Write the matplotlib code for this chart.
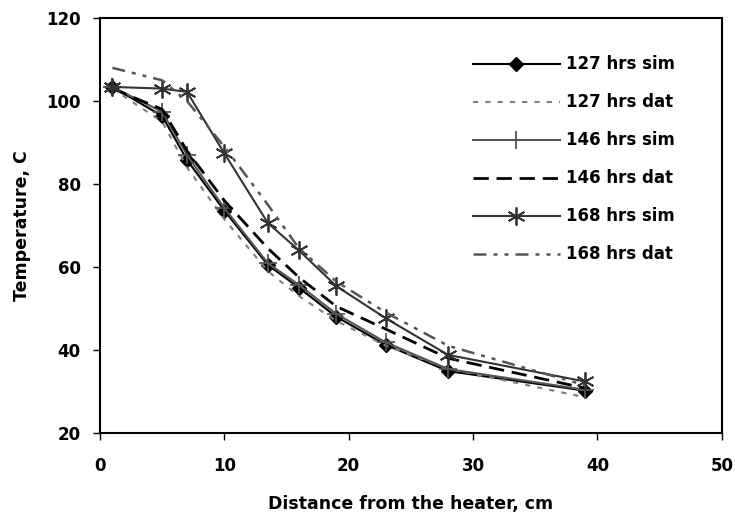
import matplotlib
matplotlib.use("Agg")
import matplotlib.pyplot as plt

plt.rcParams['font.family'] = ['DejaVu Sans']
plt.rcParams['font.weight'] = 'bold'

# distance from heater, cm
x_pts = [1, 5, 7, 10, 13.5, 16, 19, 23, 28, 39]

sim127 = [103.4, 96.4, 85.8, 73.6, 60.5, 55.0, 48.0, 41.2, 34.9, 30.2]
dat127 = [103.0, 95.0, 84.0, 71.5, 59.0, 53.0, 47.0, 41.0, 35.5, 28.6]
sim146 = [103.4, 97.4, 87.0, 74.2, 60.9, 55.7, 48.7, 41.8, 35.4, 30.4]
dat146 = [103.0, 98.0, 88.0, 76.0, 64.5, 57.5, 50.5, 45.0, 38.0, 30.8]
sim168 = [103.4, 103.0, 102.2, 87.4, 70.6, 64.0, 55.4, 47.6, 38.8, 32.4]
dat168 = [108.0, 105.0, 100.0, 89.0, 75.0, 64.5, 56.5, 49.0, 41.0, 31.5]

fig = plt.figure(figsize=(7.35, 5.16), dpi=100)
ax = fig.add_axes([0.136, 0.161, 0.846, 0.804])

ax.plot(x_pts, sim127, color='black', lw=1.5, marker='D', ms=7,
        label='127 hrs sim')
ax.plot(x_pts, dat127, color='#808080', lw=1.5, linestyle=(0, (2.5, 3.4)),
        label='127 hrs dat')
ax.plot(x_pts, sim146, color='#555555', lw=1.5, marker='+', ms=13, mew=1.3,
        label='146 hrs sim')
ax.plot(x_pts, dat146, color='black', lw=2, linestyle=(0, (5.5, 2.8)),
        label='146 hrs dat')
ax.plot(x_pts, sim168, color='#333333', lw=1.5, marker=(6, 2, 0), ms=13, mew=1.3,
        label='168 hrs sim')
ax.plot(x_pts, dat168, color='#555555', lw=1.8,
        linestyle=(0, (5.2, 2.8, 1.6, 2.8, 1.6, 2.8)),
        label='168 hrs dat')

ax.set_xlim(0, 50)
ax.set_ylim(20, 120)
ax.set_xticks([0, 10, 20, 30, 40, 50])
ax.set_yticks([20, 40, 60, 80, 100, 120])
ax.tick_params(direction='out', length=5, width=1, labelsize=12)
ax.tick_params(axis='x', pad=12)
ax.tick_params(axis='y', pad=9)
for s in ax.spines.values():
    s.set_linewidth(1.5)

ax.set_xlabel('Distance from the heater, cm', fontsize=12.5, fontweight='bold',
              labelpad=15)
ax.set_ylabel('Temperature, C', fontsize=12.5, fontweight='bold', labelpad=11)

leg = ax.legend(loc='upper left', frameon=False, fontsize=12, handlelength=5.2,
                labelspacing=1.2, bbox_to_anchor=(0.6, 0.91),
                borderaxespad=0, borderpad=0, handletextpad=0.35)
for t in leg.get_texts():
    t.set_fontweight('bold')

fig.savefig('out.png', dpi=100)
